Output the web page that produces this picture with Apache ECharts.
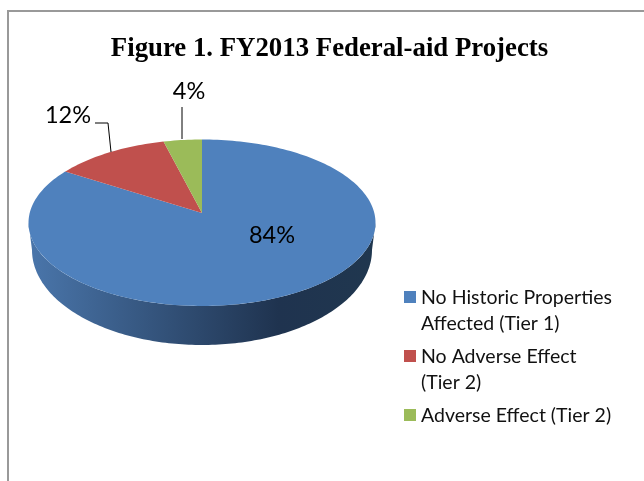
<!DOCTYPE html>
<html><head><meta charset="utf-8">
<style>html,body{margin:0;padding:0;background:#fff}#c{width:644px;height:481px}</style>
<script src="https://cdn.jsdelivr.net/npm/echarts@6/dist/echarts.min.js"></script>
</head><body><div id="c"></div>
<script>
const titleText = 'Figure 1. FY2013 Federal-aid Projects';
const categories = ['No Historic Properties\nAffected (Tier 1)', 'No Adverse Effect\n(Tier 2)', 'Adverse Effect (Tier 2)'];
const values = [84, 12, 4];
const colors = ['#4f81bd', '#c0504d', '#9bbb59'];

const total = values.reduce((a, b) => a + b, 0);
const cx = 202, apexY = 213, A = 172.3, B = 82.1, k = 0.117;
const project = t => { const u = Math.sin(t), v = Math.cos(t), w = 1 + k * v; return [cx + A * u / w, apexY - B * v / w]; };
const sliceRange = i => {
  let before = 0;
  for (let j = 0; j < i; j++) before += values[j];
  return [before / total * 2 * Math.PI, (before + values[i]) / total * 2 * Math.PI];
};
const arc = (a, b) => { const n = Math.max(2, Math.ceil(Math.abs(b - a) * 40)), p = []; for (let i = 0; i <= n; i++) p.push(project(a + (b - a) * i / n)); return p; };

const tExt = Math.acos(-k);
function wallPoints() {
  const top = arc(tExt, 2 * Math.PI - tExt);
  const bot = [];
  for (let i = 0; i <= 160; i++) { const t = Math.PI / 2 + Math.PI * i / 160; bot.push([cx + 170 * Math.sin(t), 250 - 95 * Math.cos(t)]); }
  return top.concat(bot.reverse());
}
const labelSpec = [
  { x: 272, y: 235, line: null },
  { x: 68, y: 115, line: [[95, 123], [108, 123], [111, 152]] },
  { x: 189, y: 91, line: [[182, 107], [182, 139]] }
];
function makeRender(i) {
  return function (params, api) {
    const [a, b] = sliceRange(i);
    const color = api.visual('color');
    const children = [];
    if (i === 0) children.push({
      type: 'polygon', shape: { points: wallPoints() },
      style: { fill: { type: 'linear', x: 0, y: 0, x2: 1, y2: 0, colorStops: [
        { offset: 0, color: '#4a76ab' }, { offset: 0.72, color: '#1f334f' }, { offset: 1, color: '#20374f' }] } }
    });
    children.push({ type: 'polygon', shape: { points: [[cx, apexY]].concat(arc(a, b)) }, style: { fill: color } });
    const s = labelSpec[i];
    if (s.line) children.push({ type: 'polyline', shape: { points: s.line }, style: { stroke: '#000', lineWidth: 1, fill: 'none' } });
    children.push({ type: 'text', style: { text: api.value(0) + '%', x: s.x, y: s.y, align: 'center', verticalAlign: 'middle',
      font: '23.5px Lato', fill: '#000' } });
    return { type: 'group', children };
  };
}
const chart = echarts.init(document.getElementById('c'), null, { renderer: 'canvas' });
chart.setOption({
  animation: false,
  backgroundColor: '#fff',
  title: { text: titleText, left: 329.5, top: 36, padding: 0, textAlign: 'center',
    textStyle: { fontFamily: 'Liberation Serif', fontWeight: 'bold', fontSize: 26.8, color: '#000' } },
  legend: {
    orient: 'vertical', left: 404, top: 285, padding: 0, height: 196, itemWidth: 12, itemHeight: 51, itemGap: 8,
    icon: 'path://M0 6H12V18H0Z M0 0L0 0 M0 51L0 51',
    itemStyle: { borderWidth: 0 },
    data: categories,
    formatter: n => n.includes('\n') ? n : n + '\n ',
    textStyle: { fontFamily: 'Lato', fontSize: 19.5, lineHeight: 25.5, color: '#111' }
  },
  graphic: [{ type: 'polyline', silent: true, shape: { points: [[8, 481], [8, 11], [644, 11]] },
    style: { stroke: '#999', lineWidth: 2, fill: 'none' } }],
  series: categories.map((name, i) => ({
    type: 'custom', name, coordinateSystem: 'none', silent: true,
    itemStyle: { color: colors[i] },
    renderItem: makeRender(i),
    data: [[values[i]]]
  }))
});
</script></body></html>
